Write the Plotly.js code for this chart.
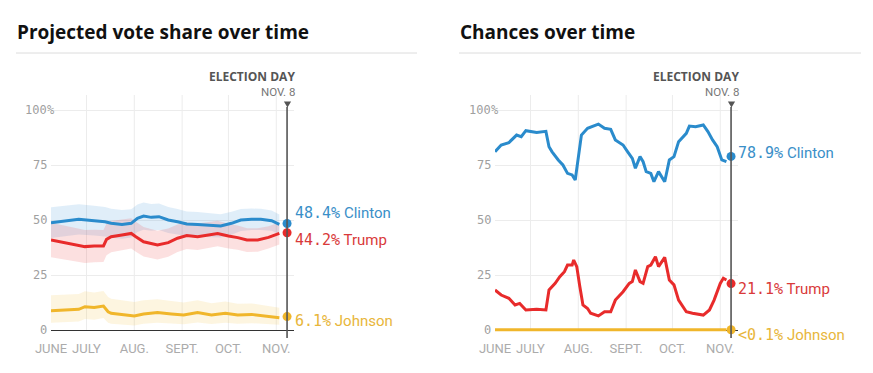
<!DOCTYPE html>
<html><head><meta charset="utf-8">
<script src="https://cdn.plot.ly/plotly-3.0.1.min.js"></script>
<style>html,body{margin:0;padding:0;background:#fff;} #chart{width:873px;height:373px;}</style>
</head><body><div id="chart"></div>
<script>
const W = 873, H = 373;

// ---------- DATA ----------
const candidates = ['Clinton', 'Trump', 'Johnson'];
const electionDay = '2016-11-08';
const monthTickDates = ['2016-06-08','2016-07-01','2016-08-01','2016-09-01','2016-10-01','2016-11-01'];
const monthTickText = ['JUNE','JULY','AUG.','SEPT.','OCT.','NOV.'];
const gridDates = ['2016-07-01','2016-08-01','2016-09-01','2016-10-01','2016-11-01'];
const yTickVals = [0, 25, 50, 75, 100];
const yTickText = ['0', '25', '50', '75', '100'];

// Projected vote share
const clintonVoteDates = ['2016-06-08','2016-06-17','2016-06-26','2016-07-06','2016-07-13','2016-07-17','2016-07-24','2016-07-30','2016-08-03','2016-08-07','2016-08-12','2016-08-17','2016-08-23','2016-08-29','2016-09-04','2016-09-11','2016-09-20','2016-09-26','2016-10-03','2016-10-09','2016-10-16','2016-10-22','2016-10-29','2016-11-03'];
const clintonVote   = [48.8,49.5,50.3,49.7,49.2,48.5,48.0,48.5,50.8,51.8,51.2,51.5,50.0,49.2,48.2,48.0,47.7,47.3,48.5,50.0,50.3,50.3,49.7,48.0];
const clintonVoteHi = [55.8,56.5,57.2,56.5,55.9,55.1,54.5,54.9,57.1,58.0,57.3,57.5,55.9,55.0,53.9,53.6,53.1,52.6,53.7,55.0,55.2,55.1,54.3,52.5];
const clintonVoteLo = [41.8,42.5,43.4,42.9,42.5,41.9,41.5,42.1,44.5,45.6,45.1,45.5,44.1,43.4,42.5,42.4,42.3,42.0,43.3,45.0,45.4,45.5,45.1,43.5];

const trumpVoteDates = ['2016-06-08','2016-06-17','2016-06-23','2016-06-30','2016-07-06','2016-07-12','2016-07-14','2016-07-17','2016-07-24','2016-07-30','2016-08-02','2016-08-07','2016-08-16','2016-08-23','2016-08-29','2016-09-04','2016-09-11','2016-09-17','2016-09-24','2016-10-01','2016-10-07','2016-10-13','2016-10-20','2016-10-27','2016-11-03'];
const trumpVote   = [40.9,39.7,39.1,37.9,38.2,38.2,41.2,42.4,43.2,43.9,42.4,40.1,38.6,39.7,41.7,42.9,42.4,43.2,43.9,42.7,42.0,40.9,40.9,42.1,43.9];
const trumpVoteHi = [48.7,47.4,46.7,45.4,45.6,45.5,48.4,49.5,50.2,50.8,49.2,46.8,45.1,46.1,48.0,49.0,48.4,49.1,49.7,48.3,47.5,46.3,46.2,47.2,48.9];
const trumpVoteLo = [33.1,32.0,31.5,30.4,30.8,30.9,34.0,35.3,36.2,37.0,35.6,33.4,32.1,33.3,35.4,36.8,36.4,37.3,38.1,37.1,36.5,35.5,35.6,37.0,38.9];

const johnsonVoteDates = ['2016-06-08','2016-06-17','2016-06-26','2016-06-30','2016-07-06','2016-07-12','2016-07-15','2016-07-17','2016-07-24','2016-08-01','2016-08-07','2016-08-16','2016-08-25','2016-09-02','2016-09-11','2016-09-20','2016-09-29','2016-10-07','2016-10-16','2016-10-24','2016-10-31','2016-11-03'];
const johnsonVote   = [8.8,9.1,9.4,10.6,10.2,10.9,8.3,7.6,7.1,6.4,7.3,8.0,7.3,6.8,7.9,6.8,7.6,6.8,7.1,6.4,5.6,5.6];
const johnsonVoteHi = [15.8,16.1,16.4,17.6,17.1,17.7,15.0,14.2,13.5,12.7,13.5,14.0,13.2,12.5,13.5,12.2,12.9,11.9,12.1,11.2,10.2,10.1];
const johnsonVoteLo = [3.3,3.6,3.9,5.0,4.7,5.4,3.3,2.8,2.5,2.1,2.8,3.3,2.9,2.6,3.4,2.7,3.3,2.8,3.1,2.7,2.4,2.4];

const finalVote = [48.4, 44.2, 6.1];
const finalVoteText = ['48.4%', '44.2%', '6.1%'];

// Chances of winning
const clintonChanceDates = ['2016-06-08','2016-06-12','2016-06-17','2016-06-22','2016-06-25','2016-06-28','2016-07-05','2016-07-11','2016-07-13','2016-07-15','2016-07-19','2016-07-22','2016-07-25','2016-07-28','2016-07-30','2016-08-01','2016-08-03','2016-08-07','2016-08-10','2016-08-14','2016-08-18','2016-08-22','2016-08-25','2016-08-30','2016-09-02','2016-09-05','2016-09-07','2016-09-10','2016-09-12','2016-09-14','2016-09-17','2016-09-19','2016-09-22','2016-09-26','2016-09-29','2016-10-02','2016-10-05','2016-10-10','2016-10-12','2016-10-16','2016-10-21','2016-10-24','2016-10-27','2016-10-30','2016-11-02','2016-11-05'];
const clintonChance = [81.0,84.1,85.2,88.6,87.9,90.6,89.8,90.3,83.3,81.0,77.3,75.0,71.2,70.5,68.2,78.8,88.6,91.7,92.4,93.6,91.7,91.2,86.4,84.1,81.0,78.0,73.5,78.8,76.5,72.0,71.2,67.4,72.0,67.4,77.3,78.8,85.6,89.4,92.7,92.4,93.2,90.2,86.4,83.3,77.3,76.5];

const trumpChanceDates = ['2016-06-08','2016-06-12','2016-06-17','2016-06-21','2016-06-24','2016-06-28','2016-07-05','2016-07-11','2016-07-13','2016-07-17','2016-07-20','2016-07-23','2016-07-25','2016-07-28','2016-07-29','2016-07-31','2016-08-02','2016-08-04','2016-08-07','2016-08-09','2016-08-14','2016-08-18','2016-08-22','2016-08-25','2016-08-30','2016-09-03','2016-09-05','2016-09-07','2016-09-10','2016-09-12','2016-09-15','2016-09-17','2016-09-20','2016-09-22','2016-09-26','2016-09-29','2016-10-02','2016-10-05','2016-10-10','2016-10-14','2016-10-21','2016-10-25','2016-10-28','2016-11-01','2016-11-03','2016-11-05'];
const trumpChance = [18.2,15.9,14.4,11.4,12.1,9.1,9.4,9.1,18.2,21.2,24.2,26.5,29.5,29.5,31.8,28.8,19.7,11.4,9.8,7.6,6.4,8.3,8.3,13.6,17.4,21.2,22.0,27.3,22.0,21.2,28.8,29.5,33.3,28.8,33.0,22.7,20.5,13.6,8.3,7.6,6.8,9.1,13.6,21.2,23.5,22.7];

const johnsonChanceDates = ['2016-06-08','2016-07-01','2016-08-01','2016-09-01','2016-10-01','2016-11-05'];
const johnsonChance = [0.1,0.1,0.1,0.1,0.1,0.1];

const finalChance = [78.9, 21.1, 0.1];
const finalChanceText = ['78.9%', '21.1%', '<0.1%'];

// ---------- STYLE ----------
const lineColors = ['#2a8bcc', '#e82b2b', '#f0b62b'];
const bandColors = ['rgba(60,150,215,0.16)', 'rgba(235,60,60,0.16)', 'rgba(245,195,60,0.16)'];
const labelColors = ['#3a8fc8', '#d93a3a', '#e8b63a'];
const px = x => x / W;
const py = y => 1 - y / H;

const voteSeries = [
  {d: clintonVoteDates, v: clintonVote, hi: clintonVoteHi, lo: clintonVoteLo},
  {d: trumpVoteDates, v: trumpVote, hi: trumpVoteHi, lo: trumpVoteLo},
  {d: johnsonVoteDates, v: johnsonVote, hi: johnsonVoteHi, lo: johnsonVoteLo}
];
const chanceSeries = [
  {d: clintonChanceDates, v: clintonChance},
  {d: trumpChanceDates, v: trumpChance},
  {d: johnsonChanceDates, v: johnsonChance}
];

const traces = [];
voteSeries.forEach((s, i) => {
  traces.push({x: s.d, y: s.lo, xaxis: 'x', yaxis: 'y', mode: 'lines', line: {width: 0}, hoverinfo: 'skip', showlegend: false});
  traces.push({x: s.d, y: s.hi, xaxis: 'x', yaxis: 'y', mode: 'lines', line: {width: 0}, fill: 'tonexty', fillcolor: bandColors[i], hoverinfo: 'skip', showlegend: false});
});
voteSeries.forEach((s, i) => {
  traces.push({x: s.d, y: s.v, xaxis: 'x', yaxis: 'y', mode: 'lines', line: {color: lineColors[i], width: 3}, showlegend: false});
});
traces.push({x: candidates.map(() => electionDay), y: finalVote, xaxis: 'x', yaxis: 'y', mode: 'markers',
  marker: {color: lineColors, size: 9}, cliponaxis: false, showlegend: false});

chanceSeries.forEach((s, i) => {
  traces.push({x: s.d, y: s.v, xaxis: 'x2', yaxis: 'y2', mode: 'lines', line: {color: lineColors[i], width: 3}, showlegend: false});
});
traces.push({x: candidates.map(() => electionDay), y: finalChance, xaxis: 'x2', yaxis: 'y2', mode: 'markers',
  marker: {color: lineColors, size: 9}, cliponaxis: false, showlegend: false});

// ---------- LAYOUT ----------
const panels = [
  {xa: 'x', ya: 'y', left: 51, right: 294, title: 'Projected vote share over time', titleX: 16, ruleX1: 417},
  {xa: 'x2', ya: 'y2', left: 495, right: 738, title: 'Chances over time', titleX: 459, ruleX1: 861}
];
const yDomain = [py(333.3), py(95.04)];
const xRange = ['2016-06-08', '2016-11-12 12:00'];

function xaxisDef(p, anchor) {
  return {domain: [px(p.left), px(p.right)], anchor: anchor, type: 'date', range: xRange,
    tickmode: 'array', tickvals: monthTickDates, ticktext: monthTickText, ticks: '', ticklabelstandoff: 6,
    showgrid: false, zeroline: false, showline: false, fixedrange: true,
    tickfont: {family: 'Roboto, sans-serif', size: 13, color: '#ababab'}};
}
function yaxisDef(anchor) {
  return {domain: yDomain, anchor: anchor, range: [-1.5, 106.8], tickmode: 'array', tickvals: yTickVals,
    showticklabels: false, ticks: '', showgrid: true, gridcolor: '#ececec', gridwidth: 1,
    zeroline: true, zerolinecolor: '#333', zerolinewidth: 1, showline: false, fixedrange: true};
}

const shapes = [];
const annotations = [];
panels.forEach((p, k) => {
  gridDates.forEach(d => shapes.push({type: 'line', xref: p.xa, yref: 'paper', x0: d, x1: d, y0: py(330), y1: py(95),
    line: {color: '#ececec', width: 1}, layer: 'below'}));
  shapes.push({type: 'line', xref: 'paper', yref: 'paper', x0: px(p.titleX), x1: px(p.ruleX1), y0: py(53), y1: py(53),
    line: {color: '#dcdcdc', width: 1}});
  shapes.push({type: 'line', xref: p.xa, yref: 'paper', x0: electionDay, x1: electionDay, y0: py(338), y1: py(107),
    line: {color: '#555', width: 1.6}});
  const ex = k === 0 ? 287.5 : 731.5;
  shapes.push({type: 'path', xref: 'paper', yref: 'paper',
    path: `M ${px(ex - 3.6)} ${py(101.5)} L ${px(ex + 3.6)} ${py(101.5)} L ${px(ex)} ${py(107.5)} Z`,
    fillcolor: '#555', line: {width: 0}});
  annotations.push({xref: 'paper', yref: 'paper', x: px(p.titleX - 1), y: py(32), xanchor: 'left', yanchor: 'middle',
    text: '<b>' + p.title + '</b>', showarrow: false, font: {family: 'Open Sans, sans-serif', size: 19, color: '#111'}});
  annotations.push({xref: 'paper', yref: 'paper', x: px(p.right + 1.5), y: py(76), xanchor: 'right', yanchor: 'middle',
    text: '<b>ELECTION DAY</b>', showarrow: false, borderpad: 0, font: {family: 'Open Sans, sans-serif', size: 12, color: '#555'}});
  annotations.push({xref: 'paper', yref: 'paper', x: px(p.right + 1.5), y: py(91.8), xanchor: 'right', yanchor: 'middle',
    text: 'NOV. 8', showarrow: false, borderpad: 0, font: {family: 'Roboto, sans-serif', size: 11.5, color: '#777'}});
  yTickVals.forEach((v, i) => annotations.push({xref: 'paper', yref: p.ya, x: px(p.left - 3), y: v,
    xanchor: 'right', yanchor: 'middle', text: yTickText[i], showarrow: false, borderpad: 0,
    font: {family: 'DejaVu Sans Mono, monospace', size: 12, color: '#a0a0a0'}}));
  annotations.push({xref: 'paper', yref: p.ya, x: px(p.left - 5), y: 100, xanchor: 'left', yanchor: 'middle',
    text: '%', showarrow: false, borderpad: 0, font: {family: 'DejaVu Sans Mono, monospace', size: 12, color: '#a0a0a0'}});
});

const voteLabelY = [213, 240, 321];
const chanceLabelY = [153, 289, 335];
const mono = s => '<span style="font-family:\'DejaVu Sans Mono\',monospace">' + s + '</span>';
candidates.forEach((c, i) => {
  annotations.push({xref: 'paper', yref: 'paper', x: px(294), y: py(voteLabelY[i]), xanchor: 'left', yanchor: 'middle',
    text: mono(finalVoteText[i]) + ' ' + c, showarrow: false, borderpad: 0,
    font: {family: 'Roboto, sans-serif', size: 15, color: labelColors[i]}});
  annotations.push({xref: 'paper', yref: 'paper', x: px(737), y: py(chanceLabelY[i]), xanchor: 'left', yanchor: 'middle',
    text: mono(finalChanceText[i]) + ' ' + c, showarrow: false, borderpad: 0,
    font: {family: 'Roboto, sans-serif', size: 15, color: labelColors[i]}});
});

const layout = {
  width: W, height: H, margin: {l: 0, r: 0, t: 0, b: 0, pad: 0},
  paper_bgcolor: '#fff', plot_bgcolor: 'rgba(0,0,0,0)', showlegend: false,
  xaxis: xaxisDef(panels[0], 'y'), yaxis: yaxisDef('x'),
  xaxis2: xaxisDef(panels[1], 'y2'), yaxis2: yaxisDef('x2'),
  shapes: shapes, annotations: annotations, hovermode: false
};

Plotly.newPlot('chart', traces, layout, {displayModeBar: false, staticPlot: true});
</script>
</body></html>
